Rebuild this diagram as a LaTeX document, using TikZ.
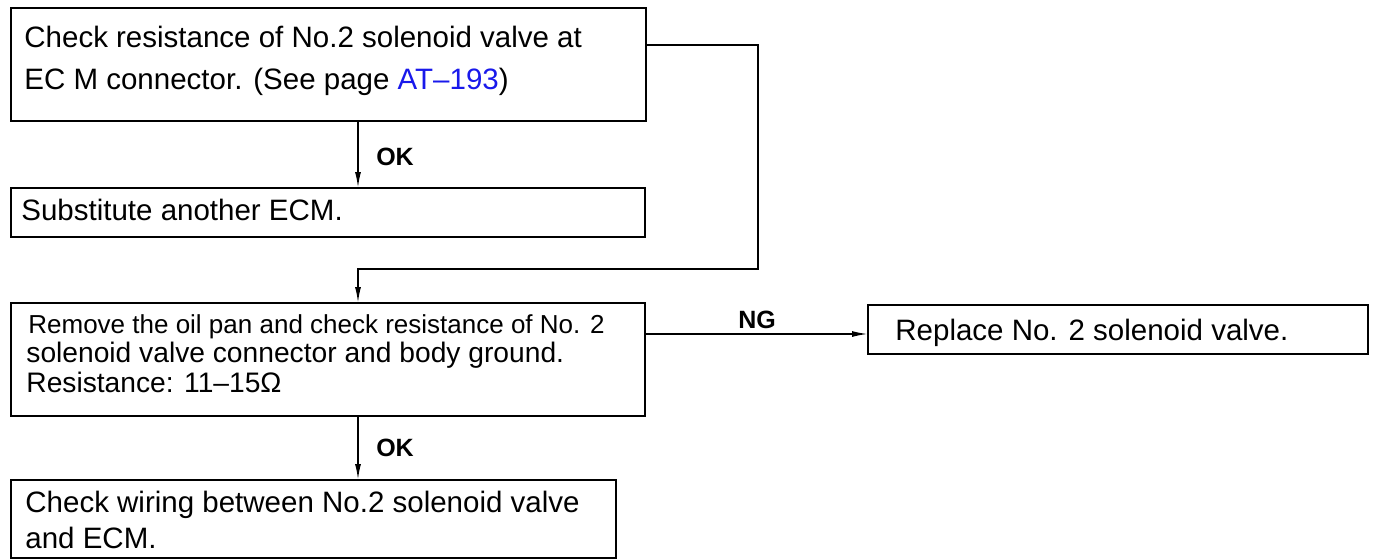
\documentclass[tikz,border=0pt]{standalone}
\usepackage{fontspec}
\setmainfont{Liberation Sans}
\usetikzlibrary{arrows.meta}
\definecolor{linkblue}{RGB}{25,25,235}
\begin{document}
\begin{tikzpicture}[x=0.5pt,y=-0.5pt,
  box/.style={draw, line width=1pt, anchor=north west, inner sep=0pt, outer sep=0pt},
  txt/.style={anchor=base west, inner sep=0pt, font=\fontsize{14.75}{17}\selectfont},
  small/.style={anchor=base west, inner sep=0pt, font=\fontsize{13}{15}\selectfont},
  mid/.style={anchor=base west, inner sep=0pt, font=\fontsize{14.1}{16}\selectfont},
  lab/.style={inner sep=0pt, font=\fontsize{12.5}{14}\selectfont\bfseries},
  arr/.style={line width=0.8pt, -{Latex[length=8pt,width=3pt]}}]
\useasboundingbox (0,0) rectangle (1377,559);
% boxes
\node[box, minimum width=317.5pt, minimum height=56.5pt] (b1) at (11,8) {};
\node[box, minimum width=317pt, minimum height=24.5pt] (b2) at (11,188) {};
\node[box, minimum width=317pt, minimum height=56.5pt] (b3) at (11,303) {};
\node[box, minimum width=250pt, minimum height=24.5pt] (b4) at (868,305) {};
\node[box, minimum width=302.5pt, minimum height=39pt] (b5) at (11,480) {};
% texts
\node[txt] (t1a) at (24,47) {Check resistance of No.2 solenoid valve at};
\node[txt] (t1b) at (24,89) {EC M connector. (See page \textcolor{linkblue}{AT–193})};
\node[txt] (t2) at (21,220) {Substitute another ECM.};
\node[small] (t3a) at (28,333) {Remove the oil pan and check resistance of No. 2};
\node[mid] (t3b) at (26,362) {solenoid valve connector and body ground.};
\node[mid] (t3c) at (26,392) {Resistance: 11–15Ω};
\node[txt] (t4) at (895,340) {Replace No. 2 solenoid valve.};
\node[txt] (t5a) at (25,512) {Check wiring between No.2 solenoid valve};
\node[txt] (t5b) at (25,548) {and ECM.};
% coordinates
\coordinate (x1) at (358,0);
\coordinate (c1) at (758,45);
\coordinate (c2) at (358,269);
\coordinate (ng) at (0,334);
% connectors
\draw[arr] (b1.south -| x1) -- (b2.north -| x1);
\draw[arr] (c1 -| b1.east) -- (c1) |- (c2) -- (c2 |- b3.north);
\draw[arr] (b3.east |- ng) -- (b4.west |- ng);
\draw[arr] (b3.south -| x1) -- (b5.north -| x1);
% labels
\node[lab] (ok1) at (395,157) {OK};
\node[lab] (ng1) at (757,320) {NG};
\node[lab] (ok2) at (395,448) {OK};
\end{tikzpicture}
\end{document}
